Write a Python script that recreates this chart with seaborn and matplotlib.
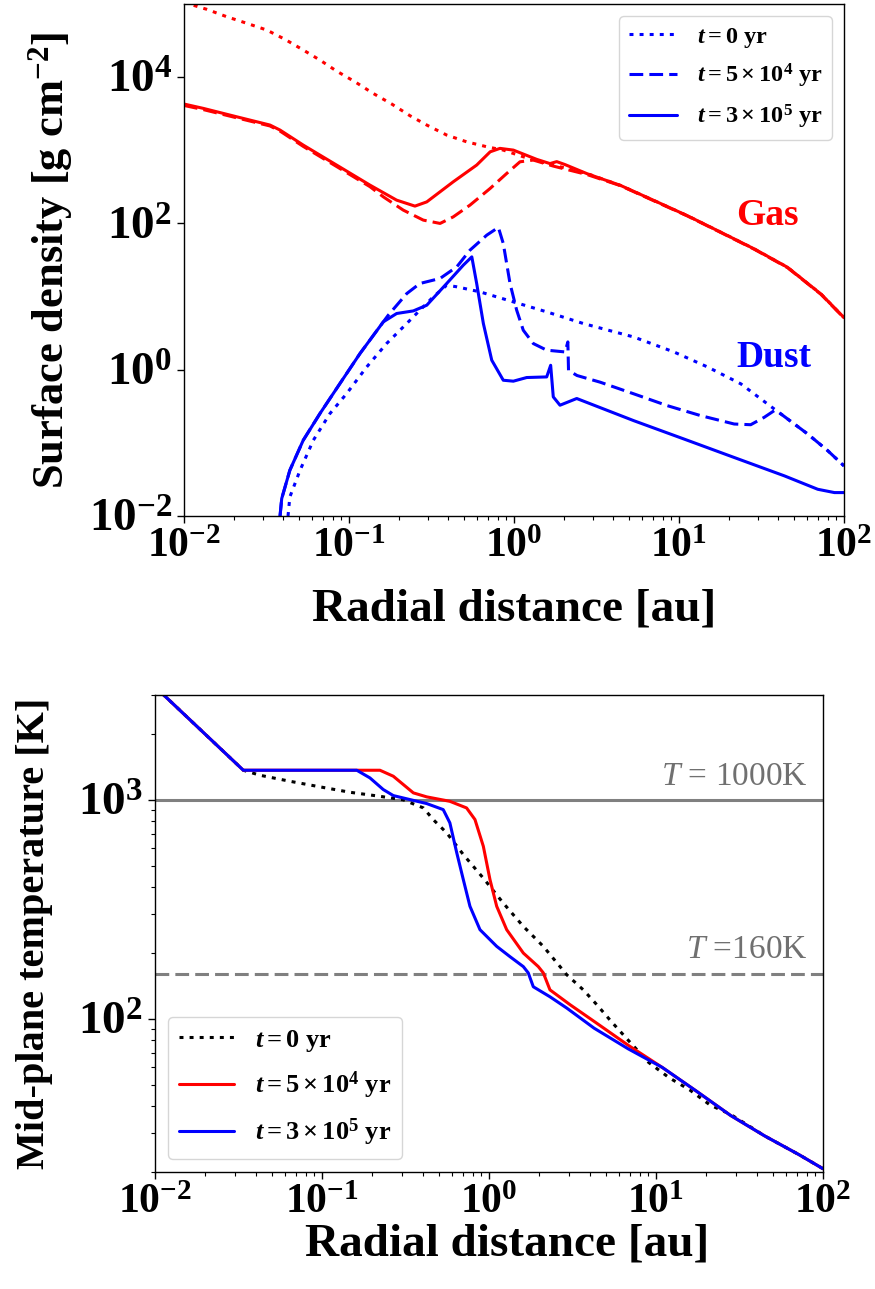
import matplotlib
matplotlib.use("Agg")
import matplotlib.pyplot as plt
import seaborn as sns
from matplotlib.ticker import NullLocator

# ---------------- data: surface density (top panel) ----------------
# gas, t = 0 yr
gas0_r = [0.0100, 0.01374, 0.01815, 0.0240, 0.0317, 0.0409, 0.0528, 0.0667, 0.0841,
          0.1086, 0.140, 0.1815, 0.2344, 0.296, 0.391, 0.516, 0.684, 0.861, 1.138,
          1.73, 2.76, 4.42, 7.03, 11.2, 17.9, 28.6, 45.5, 72.6, 100.0]
gas0_sig = [105000, 84600, 67000, 54500, 44100, 32900, 23500, 17100, 12100,
            8650, 6000, 4290, 2965, 2213, 1614, 1306, 1117, 1006, 815,
            628, 483, 331, 206.5, 128, 75.9, 44.8, 25.1, 10.8, 5.16]

# gas, t = 5e4 yr
gas1_r = [0.0100, 0.0131, 0.02085, 0.0332, 0.0382, 0.0528, 0.0841, 0.134, 0.1614,
          0.2133, 0.282, 0.3565, 0.4285, 0.541, 0.717, 0.904, 1.087, 1.309, 1.73,
          2.77, 4.42, 7.03, 11.2, 17.9, 28.6, 45.5, 72.6, 100.0]
gas1_sig = [4100, 3600, 2780, 2150, 1830, 1130, 600, 318, 231,
            152, 111, 100, 123, 178, 301, 483, 696, 735, 608,
            466, 328, 204, 127, 75.2, 44.3, 24.8, 10.7, 5.10]

# gas, t = 3e5 yr
gas2_r = [0.0100, 0.0131, 0.02085, 0.0332, 0.0382, 0.0528, 0.0841, 0.134, 0.1945,
          0.251, 0.296, 0.4285, 0.594, 0.717, 0.822, 0.991, 1.374, 1.652, 1.815,
          2.04, 2.77, 4.42, 7.03, 11.2, 17.9, 28.6, 45.5, 72.6, 100.0]
gas2_sig = [4290, 3740, 2872, 2213, 1890, 1178, 628, 334, 208,
            172.5, 197, 371, 628, 953, 1062, 1006, 751, 658, 700,
            637, 479, 331, 206.5, 128, 75.9, 44.8, 25.1, 10.8, 5.16]

# dust, t = 0 yr
dust0_r = [0.0427, 0.0438, 0.0505, 0.0608, 0.0767, 0.0968, 0.128, 0.169, 0.224,
           0.269, 0.324, 0.391, 0.450, 0.622, 0.991, 1.578, 2.64, 5.32, 9.31,
           14.9, 23.7, 34.4, 41.5, 60.3, 79.8, 100.0]
dust0_sig = [0.0100, 0.0182, 0.0422, 0.1086, 0.252, 0.472, 1.09, 2.28, 4.29,
             6.52, 9.9, 14.3, 13.6, 11.6, 8.46, 6.18, 4.27, 2.80, 1.75,
             1.09, 0.641, 0.340, 0.248, 0.132, 0.078, 0.0484]

# dust, t = 5e4 yr
dust1_r = [0.0382, 0.0391, 0.0438, 0.0528, 0.0667, 0.0881, 0.1167, 0.1614, 0.173,
           0.224, 0.269, 0.3565, 0.450, 0.541, 0.684, 0.804, 0.861, 0.946, 1.038,
           1.138, 1.309, 1.578, 2.04, 2.12, 2.14, 2.41, 3.33, 5.32, 8.48,
           13.5, 21.6, 27.2, 32.8, 37.8, 41.5, 60.3, 79.8, 100.0]
dust1_sig = [0.0100, 0.0173, 0.0422, 0.1086, 0.252, 0.647, 1.67, 4.51, 5.57,
             11.0, 15.1, 17.7, 25.5, 43.1, 69.2, 88.2, 53.2, 15.1, 6.52,
             3.47, 2.28, 1.85, 1.75, 2.40, 0.977, 0.833, 0.675, 0.468, 0.323,
             0.236, 0.181, 0.177, 0.223, 0.276, 0.248, 0.132, 0.078, 0.0484]

# dust, t = 3e5 yr
dust2_r = [0.0382, 0.0391, 0.0438, 0.0528, 0.0667, 0.0881, 0.1167, 0.1614, 0.1945,
           0.2455, 0.296, 0.391, 0.493, 0.555, 0.594, 0.652, 0.733, 0.861, 0.991,
           1.194, 1.578, 1.668, 1.73, 1.90, 2.40, 5.32, 10.7, 21.6, 43.5,
           69.3, 87.5, 100.0]
dust2_sig = [0.0100, 0.0173, 0.0422, 0.1086, 0.252, 0.647, 1.67, 4.51, 5.87,
             6.37, 7.62, 15.1, 26.9, 34.9, 15.1, 4.29, 1.35, 0.718, 0.697,
             0.782, 0.797, 1.15, 0.425, 0.327, 0.404, 0.201, 0.113, 0.0631, 0.0354,
             0.0232, 0.0209, 0.0209]

# ---------------- data: mid-plane temperature (bottom panel) ----------------
temp0_r = [0.0100, 0.01121, 0.0338, 0.0426, 0.0643, 0.0973, 0.147, 0.2223, 0.307,
           0.405, 0.463, 0.558, 0.702, 0.925, 1.218, 1.605, 2.114, 2.918, 3.67,
           4.42, 5.39, 6.82, 9.04, 12.0, 15.9, 21.1, 28.0, 37.1, 44.8, 71.8, 100.0]
temp0_T = [3284, 3013, 1361, 1291, 1212, 1143, 1080, 1035, 997,
           916, 811, 705, 561, 438, 337, 264, 214, 159, 135.5,
           116, 97.3, 79.8, 63.2, 53.8, 47.4, 40.4, 36.6, 32.0, 29.2, 24.0, 20.7]

temp1_r = [0.0100, 0.01121, 0.0338, 0.1615, 0.2223, 0.2673, 0.3524, 0.4236, 0.583,
           0.734, 0.824, 0.925, 1.014, 1.112, 1.276, 1.605, 1.973, 2.114, 2.318,
           3.055, 4.26, 6.82, 10.9, 17.5, 28.0, 44.8, 71.8, 100.0]
temp1_T = [3284, 3013, 1361, 1361, 1361, 1278, 1073, 1029, 982,
           916, 811, 612, 431, 326, 255, 199.5, 173, 162, 135.5,
           116, 97.3, 75.7, 60.0, 46.7, 36.2, 29.2, 24.0, 20.7]

temp2_r = [0.0100, 0.01121, 0.0338, 0.1615, 0.1936, 0.2328, 0.2673, 0.3365, 0.4236,
           0.532, 0.583, 0.641, 0.702, 0.769, 0.883, 1.112, 1.336, 1.605, 1.718,
           1.842, 2.318, 2.918, 4.26, 6.82, 10.9, 17.5, 28.0, 44.8, 71.8, 100.0]
temp2_T = [3284, 3013, 1361, 1361, 1256, 1111, 1043, 1000, 959,
           900, 783, 572, 431, 326, 255, 214, 192, 173, 162,
           140, 126, 112, 90.6, 72.9, 60.0, 46.7, 36.2, 29.2, 24.0, 20.7]

t_labels = [r"$\mathit{t}=0$ yr", r"$\mathit{t}=5\times10^{4}$ yr",
            r"$\mathit{t}=3\times10^{5}$ yr"]
T_sub, T_ice = 1000, 160

# ---------------- style ----------------
sns.set_style("ticks")
plt.rcParams['font.family'] = ['Liberation Serif', 'DejaVu Serif']
plt.rcParams['font.weight'] = 'bold'
plt.rcParams['axes.labelweight'] = 'bold'
plt.rcParams['mathtext.fontset'] = 'custom'
plt.rcParams['mathtext.rm'] = 'Liberation Serif:weight=bold'
plt.rcParams['mathtext.bf'] = 'Liberation Serif:weight=bold'
plt.rcParams['mathtext.it'] = 'Liberation Serif:style=italic:weight=bold'
plt.rcParams['mathtext.sf'] = 'Liberation Serif:style=italic:weight=normal'
plt.rcParams['mathtext.default'] = 'bf'
for k in ['text.color', 'axes.labelcolor', 'xtick.color', 'ytick.color', 'axes.edgecolor']:
    plt.rcParams[k] = 'black'

dotted = (0, (1.3, 2.0))
dashed = (0, (4.5, 2.0))
lw = 2.2

fig = plt.figure(figsize=(8.75, 12.89), dpi=100)
ax1 = fig.add_axes([184 / 875, 1 - 516 / 1289, 660 / 875, 512 / 1289])
ax2 = fig.add_axes([155 / 875, 1 - 1172 / 1289, 668 / 875, 477 / 1289])

for ax in (ax1, ax2):
    ax.set_xscale('log')
    ax.set_yscale('log')

# top panel
sns.lineplot(x=gas0_r, y=gas0_sig, ax=ax1, color='red', lw=lw, linestyle=dotted,
             sort=False, estimator=None)
sns.lineplot(x=gas1_r, y=gas1_sig, ax=ax1, color='red', lw=lw, linestyle=dashed,
             sort=False, estimator=None)
sns.lineplot(x=gas2_r, y=gas2_sig, ax=ax1, color='red', lw=lw,
             sort=False, estimator=None)
sns.lineplot(x=dust0_r, y=dust0_sig, ax=ax1, color='blue', lw=lw, linestyle=dotted,
             sort=False, estimator=None, label=t_labels[0])
sns.lineplot(x=dust1_r, y=dust1_sig, ax=ax1, color='blue', lw=lw, linestyle=dashed,
             sort=False, estimator=None, label=t_labels[1])
sns.lineplot(x=dust2_r, y=dust2_sig, ax=ax1, color='blue', lw=lw,
             sort=False, estimator=None, label=t_labels[2])

ax1.text(34.4, 130, 'Gas', color='red', fontsize=27, ha='center', va='center')
ax1.text(37.7, 1.45, 'Dust', color='blue', fontsize=27, ha='center', va='center')

ax1.set_xlim(1e-2, 1e2)
ax1.set_ylim(1e-2, 1e5)
ax1.set_yticks([1e-2, 1e0, 1e2, 1e4])
ax1.yaxis.set_minor_locator(NullLocator())
ax1.set_xlabel('Radial distance [au]', fontsize=34, labelpad=16)
ax1.set_ylabel(r'Surface density [g cm$^{-2}$]', fontsize=32, labelpad=10)
ax1.legend(loc='upper right', fontsize=17.5, handlelength=2.0, labelspacing=0.5)

# bottom panel
ax2.axhline(T_sub, color='#808080', lw=lw)
ax2.axhline(T_ice, color='#808080', lw=lw, linestyle=dashed)
sns.lineplot(x=temp0_r, y=temp0_T, ax=ax2, color='black', lw=lw, linestyle=dotted,
             sort=False, estimator=None, label=t_labels[0])
sns.lineplot(x=temp1_r, y=temp1_T, ax=ax2, color='red', lw=lw,
             sort=False, estimator=None, label=t_labels[1])
sns.lineplot(x=temp2_r, y=temp2_T, ax=ax2, color='blue', lw=lw,
             sort=False, estimator=None, label=t_labels[2])

ax2.text(81.3, 1170, r'$\mathsf{T}$ = 1000K', color='#707070', fontsize=24,
         fontweight='normal', ha='right', va='baseline')
ax2.text(81.3, 190, r'$\mathsf{T}$ =160K', color='#707070', fontsize=24,
         fontweight='normal', ha='right', va='baseline')

ax2.set_xlim(1e-2, 1e2)
ax2.set_ylim(20, 3000)
ax2.set_xlabel('Radial distance [au]', fontsize=34)
ax2.xaxis.set_label_coords(0.527, -0.108)
ax2.set_ylabel('Mid-plane temperature [K]', fontsize=29, labelpad=18)
ax2.legend(loc='lower left', fontsize=19, handlelength=2.1, labelspacing=0.6)

for ax in (ax1, ax2):
    ax.set_xticks([1e-2, 1e-1, 1e0, 1e1, 1e2])
    ax.tick_params(which='major', length=5, width=1.0, labelsize=30)
    ax.tick_params(axis='y', which='major', labelsize=34)
    ax.tick_params(which='minor', length=3, width=0.8)
    for s in ax.spines.values():
        s.set_linewidth(1.0)

fig.savefig('out.png', dpi=100)
